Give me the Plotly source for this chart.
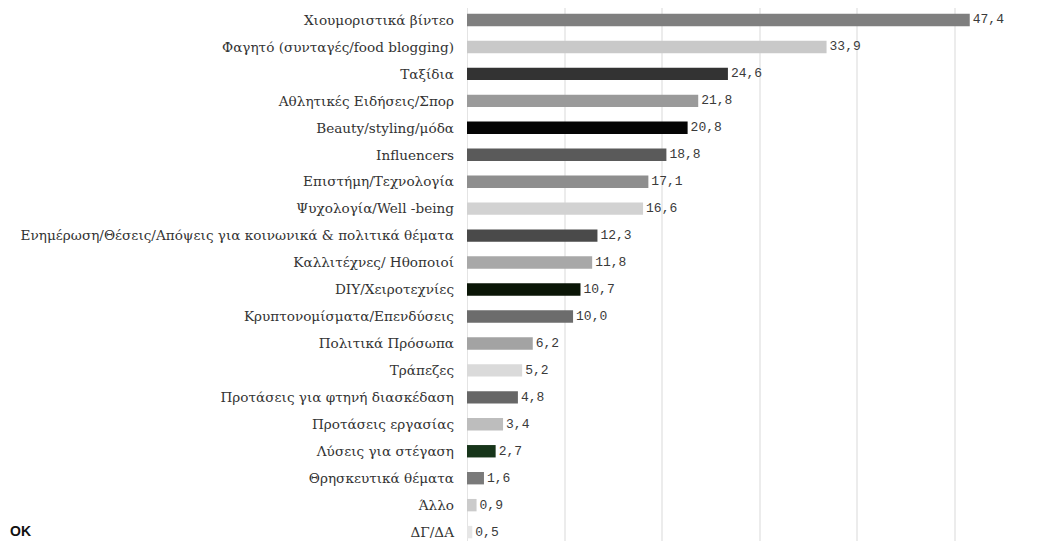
import plotly.graph_objects as go

categories = [
    "Χιουμοριστικά βίντεο",
    "Φαγητό (συνταγές/food blogging)",
    "Ταξίδια",
    "Αθλητικές Ειδήσεις/Σπορ",
    "Beauty/styling/μόδα",
    "Influencers",
    "Επιστήμη/Τεχνολογία",
    "Ψυχολογία/Well -being",
    "Ενημέρωση/Θέσεις/Απόψεις για κοινωνικά & πολιτικά θέματα",
    "Καλλιτέχνες/ Ηθοποιοί",
    "DIY/Χειροτεχνίες",
    "Κρυπτονομίσματα/Επενδύσεις",
    "Πολιτικά Πρόσωπα",
    "Τράπεζες",
    "Προτάσεις για φτηνή διασκέδαση",
    "Προτάσεις εργασίας",
    "Λύσεις για στέγαση",
    "Θρησκευτικά θέματα",
    "Άλλο",
    "ΔΓ/ΔΑ",
]
values = [47.4, 33.9, 24.6, 21.8, 20.8, 18.8, 17.1, 16.6, 12.3, 11.8,
          10.7, 10.0, 6.2, 5.2, 4.8, 3.4, 2.7, 1.6, 0.9, 0.5]
bar_colors = ["#7f7f7f", "#c9c9c9", "#333333", "#9a9a9a", "#050505",
              "#5a5a5a", "#8e8e8e", "#d2d2d2", "#4a4a4a", "#a8a8a8",
              "#0b1607", "#6c6c6c", "#a3a3a3", "#dadada", "#676767",
              "#bdbdbd", "#17351a", "#7a7a7a", "#cbcbcb", "#e6e6e6"]
labels = [f"{v:.1f}".replace(".", ",") for v in values]

fig = go.Figure(go.Bar(
    x=values, y=categories, orientation="h",
    marker=dict(color=bar_colors, line=dict(width=0)),
    width=0.46,
    text=labels, textposition="outside", cliponaxis=False,
    constraintext="none",
    textfont=dict(family="Liberation Mono", size=13, color="#3a3a3a"),
))

fig.update_layout(
    width=1036, height=533,
    margin=dict(l=459, r=0, t=0, b=0),
    paper_bgcolor="white", plot_bgcolor="white",
    showlegend=False,
    xaxis=dict(range=[0, 54.4], dtick=9.2, showticklabels=False,
               showgrid=True, gridcolor="#ececec", gridwidth=2,
               zeroline=True, zerolinecolor="#e4e4e4", zerolinewidth=1,
               fixedrange=True, automargin=False),
    yaxis=dict(categoryorder="array", categoryarray=categories,
               range=[19.33, -0.445], showgrid=False, automargin=False,
               tickfont=dict(family="DejaVu Serif", size=13.6, color="#333333"),
               ticks="", ticklabelstandoff=12),
    annotations=[dict(text="<b>ΟΚ</b>", xref="paper", yref="paper",
                      x=-459/577, y=0.0, xanchor="left", yanchor="bottom",
                      showarrow=False,
                      font=dict(family="Liberation Sans", size=14, color="#111111"))],
)

fig.write_html("out.html")
